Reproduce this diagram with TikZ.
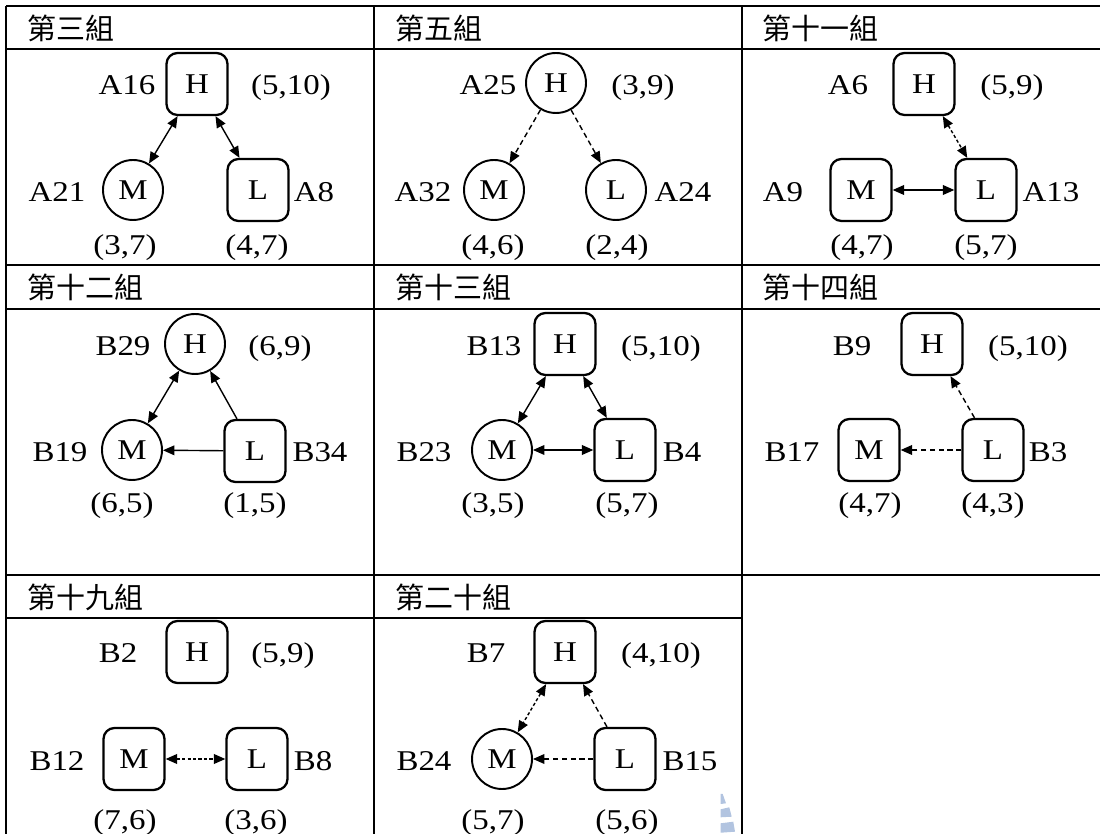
\documentclass[tikz,border=0pt]{standalone}
\usepackage{fontspec}
\setmainfont{Liberation Serif}[FakeStretch=1.15]
\newfontfamily\cjkfont{Noto Sans CJK TC}
\usetikzlibrary{arrows.meta}
\definecolor{MarkBlue}{RGB}{178,196,224}

\begin{document}
\begin{tikzpicture}[x=0.02cm,y=-0.02cm,
    every node/.style={font=\fontsize{16.3}{19}\selectfont},
    >={Triangle[length=6.5pt,width=5.5pt]},
    box/.style={draw,line width=1.3pt,rounded corners=0.22cm,
                minimum width=1.22cm,minimum height=1.24cm,inner sep=0pt},
    ring/.style={draw,circle,line width=1.1pt,minimum size=1.2cm,inner sep=0pt},
    lbl/.style={anchor=base,inner sep=0pt},
    hdr/.style={anchor=west,inner sep=0pt,font=\cjkfont\fontsize{16.5}{18}\selectfont},
    link/.style={line width=0.8pt},
    dsh/.style={link,dash pattern=on 3pt off 2pt},
    fdsh/.style={link,dash pattern=on 1.8pt off 1.3pt},
    rule/.style={line width=1.6pt}]
  \useasboundingbox (0,0) rectangle (1100,834);

  % table rules
  \draw[rule] (6,6) -- (1100,6);
  \draw[rule] (6,49) -- (1100,49);
  \draw[rule] (6,265) -- (1100,265);
  \draw[rule] (6,309) -- (1100,309);
  \draw[rule] (6,575) -- (1100,575);
  \draw[rule] (6,618) -- (742,618);
  \draw[rule] (6,6) -- (6,834);
  \draw[rule] (374,6) -- (374,834);
  \draw[rule] (742,6) -- (742,834);

  % headers
  \node[hdr] (t3) at (27,28) {第三組};
  \node[hdr] (t5) at (395,28) {第五組};
  \node[hdr] (t11) at (762,28) {第十一組};
  \node[hdr] (t12) at (27,287) {第十二組};
  \node[hdr] (t13) at (395,287) {第十三組};
  \node[hdr] (t14) at (762,287) {第十四組};
  \node[hdr] (t19) at (27,597) {第十九組};
  \node[hdr] (t20) at (395,597) {第二十組};

  % group 3
  \node[box] (h1) at (197,84) {H};
  \node[ring] (m1) at (133,190) {M};
  \node[box] (l1) at (258,190) {L};
  \node[lbl] (n1h) at (127,95) {A16};
  \node[lbl] (c1h) at (291,95) {(5,10)};
  \node[lbl] (n1m) at (57,202) {A21};
  \node[lbl] (n1l) at (314,202) {A8};
  \node[lbl] (c1m) at (125,255) {(3,7)};
  \node[lbl] (c1l) at (257,255) {(4,7)};
  \draw[link,<->] (h1) -- (m1);
  \draw[link,<->] (h1) -- (l1);

  % group 5
  \node[ring] (h2) at (556,83) {H};
  \node[ring] (m2) at (494,190) {M};
  \node[ring] (l2) at (616,190) {L};
  \node[lbl] (n2h) at (488,95) {A25};
  \node[lbl] (c2h) at (643,95) {(3,9)};
  \node[lbl] (n2m) at (423,202) {A32};
  \node[lbl] (n2l) at (683,202) {A24};
  \node[lbl] (c2m) at (493,255) {(4,6)};
  \node[lbl] (c2l) at (617,255) {(2,4)};
  \draw[dsh,->] (h2) -- (m2);
  \draw[dsh,->] (h2) -- (l2);

  % group 11
  \node[box] (h3) at (924,84) {H};
  \node[box] (m3) at (861,190) {M};
  \node[box] (l3) at (986,190) {L};
  \node[lbl] (n3h) at (848,95) {A6};
  \node[lbl] (c3h) at (1012,95) {(5,9)};
  \node[lbl] (n3m) at (783,202) {A9};
  \node[lbl] (n3l) at (1051,202) {A13};
  \node[lbl] (c3m) at (862,255) {(4,7)};
  \node[lbl] (c3l) at (986,255) {(5,7)};
  \draw[fdsh,<->] (h3) -- (l3);
  \draw[link,<->] (m3) -- (l3);

  % group 12
  \node[ring] (h4) at (195,344) {H};
  \node[ring] (m4) at (132,450) {M};
  \node[box] (l4) at (255,451) {L};
  \node[lbl] (n4h) at (123,356) {B29};
  \node[lbl] (c4h) at (280,356) {(6,9)};
  \node[lbl] (n4m) at (60,462) {B19};
  \node[lbl] (n4l) at (320,462) {B34};
  \node[lbl] (c4m) at (122,513) {(6,5)};
  \node[lbl] (c4l) at (255,513) {(1,5)};
  \draw[link,<->] (h4) -- (m4);
  \draw[link,->] (l4) -- (h4);
  \draw[link,->] (l4) -- (m4);

  % group 13
  \node[box] (h5) at (565,344) {H};
  \node[ring] (m5) at (502,450) {M};
  \node[box] (l5) at (625,450) {L};
  \node[lbl] (n5h) at (494,356) {B13};
  \node[lbl] (c5h) at (661,356) {(5,10)};
  \node[lbl] (n5m) at (424,462) {B23};
  \node[lbl] (n5l) at (682,462) {B4};
  \node[lbl] (c5m) at (493,513) {(3,5)};
  \node[lbl] (c5l) at (627,513) {(5,7)};
  \draw[link,<->] (h5) -- (m5);
  \draw[link,<->] (h5) -- (l5);
  \draw[link,<->] (m5) -- (l5);

  % group 14
  \node[box] (h6) at (932,344) {H};
  \node[box] (m6) at (869,450) {M};
  \node[box] (l6) at (993,450) {L};
  \node[lbl] (n6h) at (852,356) {B9};
  \node[lbl] (c6h) at (1028,356) {(5,10)};
  \node[lbl] (n6m) at (792,462) {B17};
  \node[lbl] (n6l) at (1048,462) {B3};
  \node[lbl] (c6m) at (870,513) {(4,7)};
  \node[lbl] (c6l) at (993,513) {(4,3)};
  \draw[dsh,->] (l6) -- (h6);
  \draw[dsh,->] (l6) -- (m6);

  % group 19
  \node[box] (h7) at (197,652) {H};
  \node[box] (m7) at (134,759) {M};
  \node[box] (l7) at (257,759) {L};
  \node[lbl] (n7h) at (118,663) {B2};
  \node[lbl] (c7h) at (283,663) {(5,9)};
  \node[lbl] (n7m) at (57,770) {B12};
  \node[lbl] (n7l) at (313,770) {B8};
  \node[lbl] (c7m) at (125,829) {(7,6)};
  \node[lbl] (c7l) at (256,829) {(3,6)};
  \draw[fdsh,<->] (m7) -- (l7);

  % group 20
  \node[box] (h8) at (565,652) {H};
  \node[ring] (m8) at (502,759) {M};
  \node[box] (l8) at (625,759) {L};
  \node[lbl] (n8h) at (486,663) {B7};
  \node[lbl] (c8h) at (661,663) {(4,10)};
  \node[lbl] (n8m) at (424,770) {B24};
  \node[lbl] (n8l) at (690,770) {B15};
  \node[lbl] (c8m) at (493,829) {(5,7)};
  \node[lbl] (c8l) at (627,829) {(5,6)};
  \draw[fdsh,<->] (h8) -- (m8);
  \draw[dsh,->] (l8) -- (h8);
  \draw[dsh,->] (l8) -- (m8);

  % watermark piece
  \fill[MarkBlue] (720.7,794) -- (722.7,794) -- (726,803.3) -- (720.7,804) -- cycle;
  \fill[MarkBlue] (720.7,809.3) -- (729.3,807.3) -- (731.7,816.7) -- (720.7,817.3) -- cycle;
  \fill[MarkBlue] (720.7,823.3) -- (733.3,821.7) -- (735,831.7) -- (720.7,832.7) -- cycle;
\end{tikzpicture}
\end{document}
